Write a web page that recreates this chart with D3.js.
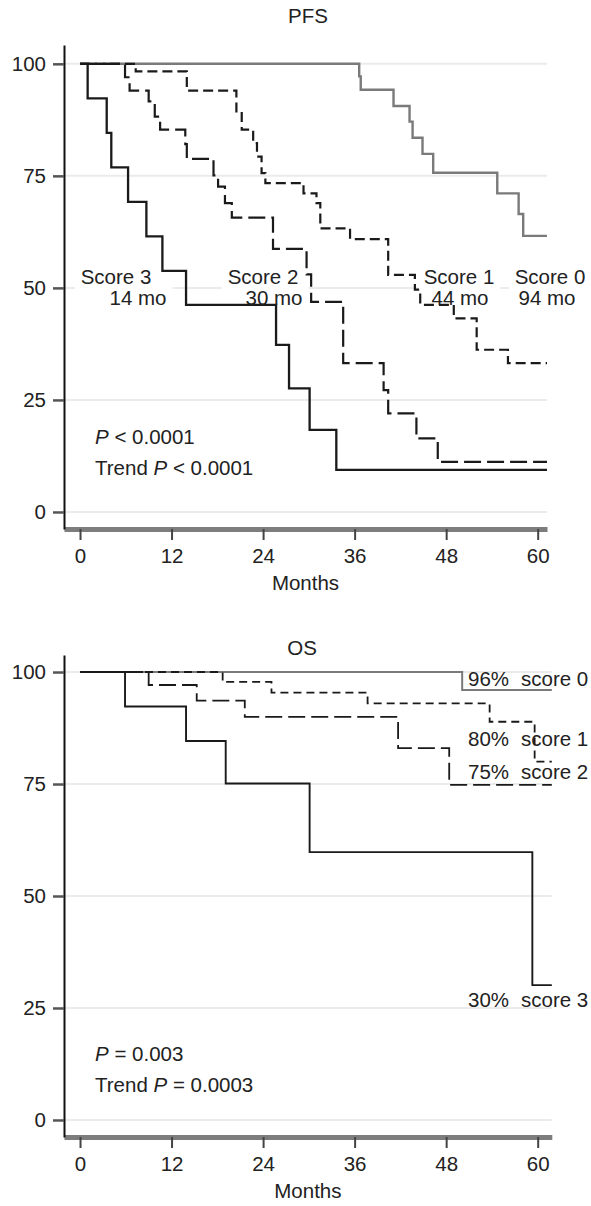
<!DOCTYPE html>
<html>
<head>
<meta charset="utf-8">
<script src="https://cdn.jsdelivr.net/npm/d3@7"></script>
<style>
  body { margin: 0; background: #fff; }
  svg text { font-family: "Liberation Sans", Arial, sans-serif; fill: #222; }
</style>
</head>
<body>
<svg id="km" width="591" height="1206"></svg>
<script>
// ---- data (months, % event free) ----
const xTicks = [0, 12, 24, 36, 48, 60];
const yTicks = [0, 25, 50, 75, 100];

// PFS
const pfsScore0Months = [0, 36.6, 36.8, 41.1, 43.2, 43.6, 44.9, 46.3, 54.7, 57.5, 58.1];
const pfsScore0Pct    = [100, 97.2, 94.2, 90.6, 87.1, 83.5, 79.9, 75.7, 71.1, 66.5, 61.6];
const pfsScore1Months = [0, 7.3, 14.0, 20.5, 21.2, 22.7, 23.2, 23.8, 24.3, 29.3, 31.0, 31.5, 35.4, 40.4, 43.9, 44.6, 49.0, 52.0, 56.1];
const pfsScore1Pct    = [100, 98.3, 94.0, 89.4, 85.3, 82.3, 79.3, 75.6, 73.4, 71.1, 68.9, 63.3, 60.9, 52.9, 49.6, 46.2, 43.2, 36.2, 33.2];
const pfsScore2Months = [0, 5.9, 6.5, 9.0, 9.8, 10.5, 13.8, 14.0, 17.5, 18.1, 19.0, 19.9, 25.3, 29.7, 30.3, 34.5, 39.8, 40.4, 44.1, 46.9];
const pfsScore2Pct    = [100, 97.0, 94.0, 91.6, 88.2, 85.3, 82.1, 78.8, 75.1, 72.6, 68.9, 65.7, 58.7, 53.0, 46.9, 33.2, 27.2, 22.0, 16.4, 11.2];
const pfsScore3Months = [0, 1.0, 3.5, 4.1, 6.3, 8.7, 10.8, 13.9, 25.7, 27.4, 30.1, 33.6];
const pfsScore3Pct    = [100, 92.3, 84.6, 76.9, 69.2, 61.5, 53.8, 46.2, 37.3, 27.6, 18.3, 9.4];

// OS
const osScore0Months = [0, 50.1];
const osScore0Pct    = [100, 96.0];
const osScore1Months = [0, 18.7, 25.1, 37.7, 53.7, 59.6];
const osScore1Pct    = [100, 97.8, 95.4, 93.0, 88.9, 80.0];
const osScore2Months = [0, 9.0, 15.3, 21.6, 41.7, 48.4];
const osScore2Pct    = [100, 97.1, 93.6, 90.0, 83.0, 74.8];
const osScore3Months = [0, 5.9, 13.9, 19.1, 30.1, 59.3];
const osScore3Pct    = [100, 92.3, 84.6, 75.1, 59.8, 30.1];

let svg = d3.select("#km");
const FONT = 20.5;

let drawPanel = (cfg) => {
    let x = d3.scaleLinear().domain([-2.1, cfg.xMax]).range([64, cfg.right]);
    let y = d3.scaleLinear().domain([-3.8, cfg.yMax]).range([cfg.bottom, cfg.top]);
    let g = svg.append("g");
    let gridLayer = g.append("g");
    let boxLayer = g.append("g");
    let curveLayer = g.append("g");
    let textLayer = g.append("g");
    let axisLayer = g.append("g");

    // light horizontal grid
    gridLayer.selectAll("line")
        .data(yTicks)
        .enter()
        .append("line")
        .attr("x1", x.range()[0])
        .attr("x2", x.range()[1])
        .attr("y1", d => y(d))
        .attr("y2", d => y(d))
        .attr("stroke", "#ebebeb")
        .attr("stroke-width", 2);

    // step curves
    let line = d3.line()
        .x(d => x(d[0]))
        .y(d => y(d[1]))
        .curve(d3.curveStepAfter);
    for (let c of cfg.curves) {
        let pts = c.months.map((m, i) => [m, c.pct[i]]);
        pts.push([cfg.xMax, c.pct[c.pct.length - 1]]);
        curveLayer.append("path")
            .datum(pts)
            .attr("d", line)
            .attr("fill", "none")
            .attr("stroke", c.color)
            .attr("stroke-width", c.width)
            .attr("stroke-dasharray", c.dash || null);
    }

    // annotation text
    for (let t of cfg.labels) {
        let node = textLayer.append("text")
            .attr("x", t.x)
            .attr("y", t.y)
            .attr("text-anchor", t.anchor || "start")
            .style("font-size", FONT + "px");
        if (t.italicP) {
            node.append("tspan").text(t.pre || "");
            node.append("tspan").style("font-style", "italic").text("P");
            node.append("tspan").text(t.post);
        } else {
            node.text(t.text);
        }
    }
    // white boxes behind the median labels (hide the grid line only)
    for (let grp of (cfg.boxes || [])) {
        let boxes = grp.map(i => textLayer.selectAll("text").nodes()[i].getBBox());
        let x0 = d3.min(boxes, b => b.x) - 6;
        let x1 = d3.max(boxes, b => b.x + b.width) + 6;
        let y0 = d3.min(boxes, b => b.y);
        let y1 = d3.max(boxes, b => b.y + b.height);
        boxLayer.append("rect")
            .attr("x", x0).attr("y", y0)
            .attr("width", x1 - x0).attr("height", y1 - y0)
            .attr("fill", "#fff");
    }

    // axes
    let xAxis = axisLayer.append("g")
        .attr("transform", `translate(0, ${cfg.bottom})`)
        .call(d3.axisBottom(x).tickValues(xTicks).tickSize(11).tickSizeOuter(0).tickPadding(8));
    xAxis.select(".domain").attr("stroke", "#7d7d7d").attr("stroke-width", 5);
    xAxis.selectAll(".tick line").attr("stroke", "#444").attr("stroke-width", 2);
    xAxis.selectAll(".tick text")
        .attr("fill", "#222")
        .style("font-size", FONT + "px")
        .style("font-family", "Liberation Sans, Arial, sans-serif");

    let yAxis = axisLayer.append("g")
        .attr("transform", `translate(64, 0)`)
        .call(d3.axisLeft(y).tickValues(yTicks).tickSize(11).tickSizeOuter(0).tickPadding(7));
    yAxis.select(".domain").attr("stroke", "#111").attr("stroke-width", 2);
    yAxis.selectAll(".tick line").attr("stroke", "#555").attr("stroke-width", 2.5);
    yAxis.selectAll(".tick text")
        .attr("fill", "#222")
        .style("font-size", FONT + "px")
        .style("font-family", "Liberation Sans, Arial, sans-serif");

    axisLayer.append("text")
        .attr("x", (x.range()[0] + x.range()[1]) / 2)
        .attr("y", cfg.bottom + 61)
        .attr("text-anchor", "middle")
        .style("font-size", FONT + "px")
        .text("Months");

    axisLayer.append("text")
        .attr("x", cfg.titleX)
        .attr("y", cfg.titleY)
        .attr("text-anchor", "middle")
        .style("font-size", FONT + "px")
        .text(cfg.title);
};

drawPanel({
    title: "PFS", titleX: 308, titleY: 23,
    top: 45, bottom: 529, right: 547, xMax: 61.22, yMax: 104.2,
    curves: [
        {months: pfsScore0Months, pct: pfsScore0Pct, color: "#7a7a7a", width: 2.4},
        {months: pfsScore1Months, pct: pfsScore1Pct, color: "#1a1a1a", width: 2.2, dash: "10,5"},
        {months: pfsScore2Months, pct: pfsScore2Pct, color: "#1a1a1a", width: 2.2, dash: "17,6"},
        {months: pfsScore3Months, pct: pfsScore3Pct, color: "#1a1a1a", width: 2.3}
    ],
    labels: [
        {text: "Score 3", x: 116, y: 284, anchor: "middle"},
        {text: "14 mo", x: 138, y: 305, anchor: "middle"},
        {text: "Score 2", x: 263, y: 284, anchor: "middle"},
        {text: "30 mo", x: 274, y: 305, anchor: "middle"},
        {text: "Score 1", x: 459, y: 284, anchor: "middle"},
        {text: "44 mo", x: 460, y: 305, anchor: "middle"},
        {text: "Score 0", x: 550, y: 284, anchor: "middle"},
        {text: "94 mo", x: 547, y: 305, anchor: "middle"},
        {italicP: true, post: " < 0.0001", x: 95, y: 444},
        {italicP: true, pre: "Trend ", post: " < 0.0001", x: 95, y: 475}
    ],
    boxes: [[0, 1], [2, 3], [4, 5], [6, 7]]
});

drawPanel({
    title: "OS", titleX: 302, titleY: 655,
    top: 655, bottom: 1137, right: 551.8, xMax: 61.85, yMax: 103.8,
    curves: [
        {months: osScore0Months, pct: osScore0Pct, color: "#7a7a7a", width: 2},
        {months: osScore1Months, pct: osScore1Pct, color: "#1a1a1a", width: 1.8, dash: "8,5"},
        {months: osScore2Months, pct: osScore2Pct, color: "#1a1a1a", width: 1.8, dash: "17,6"},
        {months: osScore3Months, pct: osScore3Pct, color: "#1a1a1a", width: 1.9}
    ],
    labels: [
        {text: "96%", x: 468, y: 686},
        {text: "score 0", x: 521, y: 686},
        {text: "80%", x: 468, y: 746},
        {text: "score 1", x: 521, y: 746},
        {text: "75%", x: 468, y: 779},
        {text: "score 2", x: 521, y: 779},
        {text: "30%", x: 468, y: 1007},
        {text: "score 3", x: 521, y: 1007},
        {italicP: true, post: " = 0.003", x: 95, y: 1061},
        {italicP: true, pre: "Trend ", post: " = 0.0003", x: 95, y: 1092}
    ]
});
</script>
</body>
</html>
